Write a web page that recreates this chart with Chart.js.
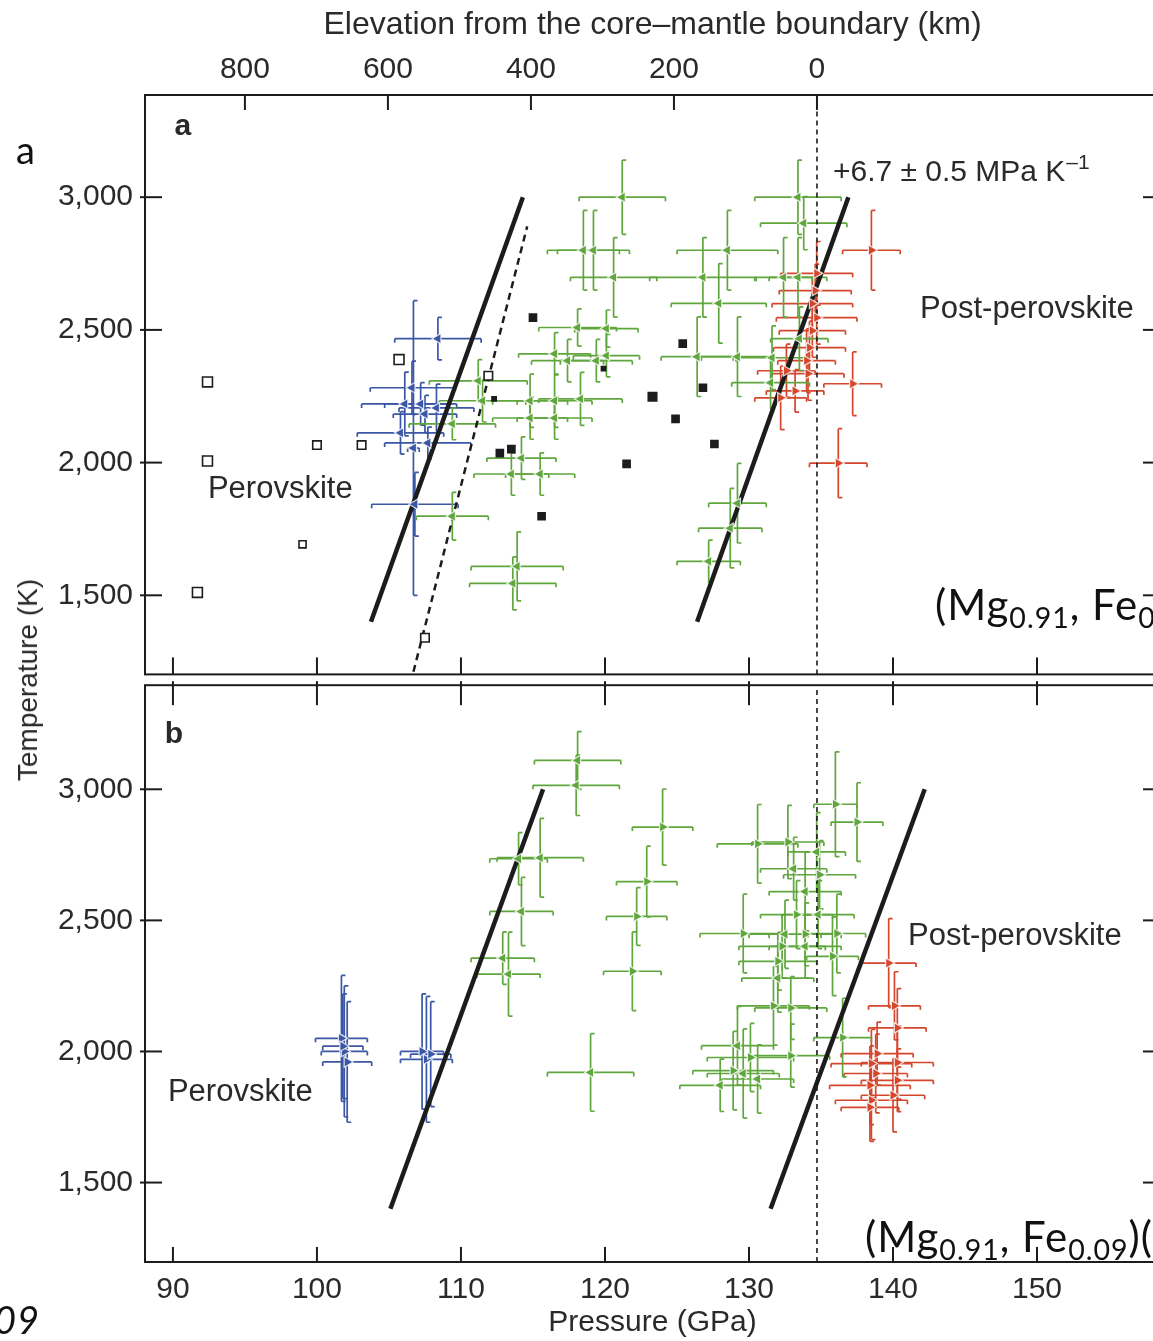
<!DOCTYPE html>
<html lang="en">
<head>
<meta charset="UTF-8">
<title>Perovskite / post-perovskite transition</title>
<script src="https://cdn.jsdelivr.net/npm/chart.js"></script>
<style>
  body {
    margin: 0;
    background: #fff;
    width: 1153px;
    height: 1341px;
    overflow: hidden;
    position: relative;
    font-family: "Liberation Sans", Arial, sans-serif;
    color: #2a2a2a;
  }
  canvas { position: absolute; left: 0; }
  #chartA { top: 0; }
  #chartB { top: 678px; }
  #ylab {
    position: absolute;
    left: 28px;
    top: 680px;
    transform: translate(-50%, -50%) rotate(-90deg);
    font-size: 28px;
    white-space: nowrap;
  }
  .slide {
    position: absolute;
    white-space: nowrap;
    font-family: Lato, "Noto Sans", sans-serif;
    font-size: 42px;
    letter-spacing: 1px;
    color: #111;
    line-height: 1;
  }
  .slide sub { font-size: 0.68em; vertical-align: -0.28em; line-height: 0; }
</style>
</head>
<body>
  <canvas id="chartA" width="1170" height="683"></canvas>
  <canvas id="chartB" width="1170" height="663"></canvas>
  <div id="ylab">Temperature (K)</div>
  <div class="slide" style="left:16px; top:130px; font-size:38px;">a</div>
  <div class="slide" style="left:-6px; top:1300px; font-size:38px; font-style:italic;">09</div>
  <div class="slide" style="left:935px; top:583px;">(Mg<sub>0.91</sub>, Fe<sub>0.09</sub>)(</div>
  <div class="slide" style="left:865px; top:1215px;">(Mg<sub>0.91</sub>, Fe<sub>0.09</sub>)(</div>

<script>
// ---- data: [pressure GPa, temperature K, ±pressure, ±temperature] ----
const pressureTicks = [90, 100, 110, 120, 130, 140, 150];
const elevationTicks = [800, 600, 400, 200, 0];
const tempTicks = [1500, 2000, 2500, 3000];

// panel a
const aPerovskite = [
  [108.4, 2467, 3.0, 80], [106.6, 2282, 2.9, 100], [106.1, 2221, 3.0, 120],
  [107.2, 2221, 2.5, 80], [108.3, 2206, 2.6, 90], [107.5, 2183, 2.2, 70],
  [105.8, 2112, 3.0, 80], [107.7, 2074, 3.0, 60], [106.8, 1843, 3.0, 120],
  [106.7, 2055, 0.4, 555]
];
const aMixed = [
  [121.2, 3000, 3.0, 140], [118.5, 2800, 2.5, 150], [119.2, 2800, 2.5, 150],
  [120.6, 2698, 3.0, 150], [126.8, 2698, 3.7, 150], [128.5, 2800, 3.5, 150],
  [127.9, 2600, 3.3, 150], [118.1, 2509, 2.7, 70], [120.1, 2505, 2.2, 70],
  [120.1, 2403, 2.3, 80], [126.4, 2399, 2.5, 150], [129.2, 2399, 2.5, 150],
  [118.3, 2240, 2.9, 100], [116.5, 2410, 2.5, 80], [117.4, 2384, 2.5, 80],
  [114.8, 2233, 2.6, 100], [116.5, 2233, 2.6, 100], [114.8, 2168, 2.6, 80],
  [116.5, 2168, 2.6, 80], [114.2, 2017, 2.4, 80], [115.5, 1957, 2.4, 80],
  [113.5, 1957, 2.6, 80], [111.2, 2308, 3.4, 80], [111.5, 2233, 3.0, 80],
  [109.4, 2146, 3.0, 60], [109.4, 1798, 2.5, 90], [113.9, 1609, 3.2, 130],
  [113.6, 1545, 3.0, 100], [133.4, 3000, 3.0, 140], [133.8, 2902, 3.0, 100],
  [132.4, 2698, 2.0, 150], [133.4, 2698, 2.0, 150], [131.6, 2395, 2.5, 120],
  [131.5, 2301, 2.7, 100], [133.5, 2467, 2.0, 120], [129.2, 1847, 2.0, 150],
  [128.7, 1753, 2.2, 150], [127.2, 1628, 2.2, 80], [119.4, 2384, 2.5, 80]
];
const aPostPerovskite = [
  [138.5, 2800, 2.0, 150], [134.7, 2713, 2.5, 120], [134.6, 2648, 2.5, 100],
  [134.4, 2599, 2.8, 100], [134.7, 2546, 2.8, 100], [134.4, 2497, 2.3, 100],
  [134.2, 2433, 2.5, 100], [134.0, 2384, 2.0, 120], [132.6, 2346, 2.0, 100],
  [134.1, 2335, 2.5, 100], [132.2, 2244, 1.8, 120], [137.2, 2297, 2.0, 120],
  [136.2, 1998, 2.0, 130], [133.2, 2270, 2.0, 80]
];
const aOpenSquares = [
  [92.4, 2304], [92.4, 2006], [100.0, 2066], [103.1, 2066],
  [105.7, 2388], [99.0, 1692], [91.7, 1511]
];
const aFilledSquares = [
  [115.0, 2546], [125.4, 2448], [123.3, 2248], [126.8, 2282], [124.9, 2165],
  [127.6, 2070], [121.5, 1995], [112.7, 2036], [113.5, 2051], [115.6, 1798],
  [119.9, 2354], [112.3, 2240]
];
const aCrossedSquares = [[111.9, 2327], [107.5, 1340]];
const aBoundary = [[103.75, 1400], [114.3, 3000]];
const aBoundaryDashed = [[106.7, 1212], [114.6, 2890]];
const aBoundaryRight = [[126.4, 1400], [136.9, 3000]];

// panel b
const bPerovskite = [
  [101.7, 2050, 1.8, 240], [101.9, 2000, 1.6, 250], [102.1, 1960, 1.7, 230],
  [101.8, 2020, 1.4, 200], [107.3, 2000, 1.5, 220], [107.6, 1970, 1.8, 240],
  [107.9, 1990, 1.4, 200]
];
const bMixedLeft = [
  [118.1, 3110, 3.0, 110], [118.0, 3015, 3.0, 115], [115.5, 2739, 3.0, 150],
  [114.0, 2735, 2.0, 100], [114.2, 2534, 2.2, 130], [112.9, 2356, 2.2, 100],
  [113.3, 2295, 2.2, 160], [119.0, 1920, 3.0, 148], [134.7, 2761, 2.0, 150],
  [133.1, 2697, 2.3, 120], [133.9, 2610, 2.5, 150], [134.8, 2522, 2.5, 130],
  [132.5, 2447, 2.5, 130], [133.9, 2401, 2.5, 120], [132.0, 2280, 2.5, 130],
  [129.2, 2022, 2.5, 150], [129.6, 1916, 2.5, 170], [128.0, 1871, 2.8, 100],
  [130.6, 1895, 2.5, 130]
];
const bMixedRight = [
  [124.0, 2856, 2.1, 145], [122.9, 2648, 2.1, 135], [122.2, 2515, 2.1, 110],
  [121.9, 2306, 2.0, 150], [136.0, 2943, 1.5, 200], [137.5, 2875, 1.8, 150],
  [130.6, 2792, 2.8, 150], [132.7, 2799, 2.5, 140], [134.9, 2674, 2.5, 130],
  [133.3, 2522, 2.5, 130], [129.6, 2450, 3.0, 150], [133.9, 2447, 2.5, 120],
  [136.1, 2450, 2.0, 150], [132.3, 2401, 3.0, 120], [135.8, 2363, 1.8, 150],
  [132.0, 2344, 2.7, 110], [131.7, 2174, 2.5, 150], [132.9, 2166, 2.5, 120],
  [136.5, 2053, 2.0, 150], [130.1, 1977, 3.0, 130], [132.9, 1984, 2.7, 120],
  [128.9, 1927, 2.8, 150]
];
const bPostPerovskite = [
  [139.7, 2337, 1.9, 170], [140.1, 2174, 1.8, 130], [140.3, 2090, 2.0, 150],
  [138.9, 1992, 2.5, 120], [140.3, 1958, 2.5, 140], [138.5, 1954, 2.8, 130],
  [138.8, 1916, 2.2, 150], [140.3, 1890, 2.5, 120], [138.4, 1871, 2.8, 150],
  [140.0, 1833, 2.2, 140], [138.5, 1814, 2.5, 150], [138.4, 1787, 2.0, 130]
];
const bBoundary = [[105.1, 1400], [115.7, 3000]];
const bBoundaryRight = [[131.5, 1400], [142.2, 3000]];

// axis ranges
const pMin = 88.06, pMax = 158.54;
const pCMB = 134.72;        // 0 km elevation
const kmPerGPa = 20.14;

const BLUE = '#3a56a5', GREEN = '#5fa63c', RED = '#d4472d', INK = '#1c1c1c';
const FONT = '"Liberation Sans", Arial, sans-serif';

const pts = rows => rows.map(r => ({ x: r[0], y: r[1] }));

// error bars drawn under the markers
const errorBars = {
  id: 'errorBars',
  beforeDatasetsDraw(chart) {
    const { ctx, chartArea: a, scales: { x, y } } = chart;
    ctx.save();
    ctx.beginPath();
    ctx.rect(a.left, a.top, a.width, a.height);
    ctx.clip();
    ctx.lineWidth = 1.7;
    chart.data.datasets.forEach(ds => {
      if (!ds.errors) return;
      ctx.strokeStyle = ds.errColor;
      ds.errors.forEach(([p, t, dp, dt]) => {
        const cx = x.getPixelForValue(p), cy = y.getPixelForValue(t);
        const x0 = x.getPixelForValue(p - dp), x1 = x.getPixelForValue(p + dp);
        const y0 = y.getPixelForValue(t + dt), y1 = y.getPixelForValue(t - dt);
        ctx.beginPath();
        ctx.moveTo(x0, cy); ctx.lineTo(x1, cy);
        ctx.moveTo(cx, y0); ctx.lineTo(cx, y1);
        ctx.moveTo(x0, cy); ctx.lineTo(x0, cy + 4);
        ctx.moveTo(x1, cy); ctx.lineTo(x1, cy + 4);
        ctx.moveTo(cx, y0); ctx.lineTo(cx + 4, y0);
        ctx.moveTo(cx, y1); ctx.lineTo(cx + 4, y1);
        ctx.stroke();
      });
    });
    ctx.restore();
  }
};

// box + inward ticks
function makeFrame(top, bottom) {
  return {
    id: 'frame',
    afterDraw(chart) {
      const { ctx, chartArea: a, scales } = chart;
      const seg = (x0, y0, x1, y1) => { ctx.beginPath(); ctx.moveTo(x0, y0); ctx.lineTo(x1, y1); ctx.stroke(); };
      ctx.save();
      ctx.strokeStyle = INK;
      ctx.lineWidth = 2;
      ctx.strokeRect(a.left, a.top, a.width, a.height);
      tempTicks.forEach(v => {
        const py = scales.y.getPixelForValue(v);
        seg(a.left - 5, py, a.left + 17, py);
        seg(a.right - 17, py, a.right + 5, py);
      });
      top.values.forEach(v => {
        const px = scales[top.scale].getPixelForValue(v);
        seg(px, a.top - top.out, px, a.top + top.len);
      });
      bottom.values.forEach(v => {
        const px = scales[bottom.scale].getPixelForValue(v);
        seg(px, a.bottom - bottom.len, px, a.bottom + bottom.out);
      });
      ctx.restore();
    }
  };
}

// in-plot labels, placed in data coordinates
function makeNotes(items) {
  return {
    id: 'notes',
    afterDatasetsDraw(chart) {
      const { ctx, scales: { x, y } } = chart;
      ctx.save();
      ctx.fillStyle = '#2a2a2a';
      ctx.textBaseline = 'middle';
      ctx.textAlign = 'left';
      items.forEach(it => {
        ctx.font = it.font;
        const px = x.getPixelForValue(it.p), py = y.getPixelForValue(it.t);
        ctx.fillText(it.text, px, py);
        if (it.sup) {
          const w = ctx.measureText(it.text).width;
          ctx.font = it.supFont;
          ctx.fillText(it.sup, px + w + 1, py - 9);
        }
      });
      ctx.restore();
    }
  };
}

function errSet(rows, color, rotation) {
  return {
    data: pts(rows), errors: rows, errColor: color,
    pointStyle: 'triangle', rotation: rotation, pointRadius: 6,
    backgroundColor: color, borderColor: 'rgba(255,255,255,0.8)', borderWidth: 1.2
  };
}
function lineSet(rows, width, dash) {
  return {
    data: pts(rows), showLine: true, pointRadius: 0,
    borderColor: INK, borderWidth: width, borderDash: dash || [], borderCapStyle: 'butt'
  };
}
function squareSet(rows, fill, radius) {
  return {
    data: pts(rows), pointStyle: 'rect', pointRadius: radius,
    backgroundColor: fill, borderColor: INK, borderWidth: 1.6
  };
}

// keep the plot boxes exactly where the axes say, no label overhang padding
const noOverhang = s => { s.paddingTop = 0; s.paddingBottom = 0; s.paddingLeft = 0; s.paddingRight = 0; };

const tickFont = { family: FONT, size: 30 };
const yAxis = (min, max) => ({
  type: 'linear', min: min, max: max,
  afterBuildTicks: s => { s.ticks = tempTicks.map(v => ({ value: v })); },
  afterFit: s => { s.width = 145; noOverhang(s); },
  grid: { display: false, drawTicks: false },
  border: { display: false },
  ticks: { font: tickFont, color: '#2a2a2a', padding: 12, autoSkip: false,
           callback: v => v.toLocaleString('en-US') }
});

// ---- panel a ----
new Chart(document.getElementById('chartA'), {
  type: 'scatter',
  data: {
    datasets: [
      errSet(aPostPerovskite, RED, 90),
      errSet(aPerovskite, BLUE, -90),
      errSet(aMixed, GREEN, -90),
      squareSet(aOpenSquares, '#ffffff', [7, 7, 6, 6, 7, 5, 7]),
      squareSet(aFilledSquares, INK, [5, 5, 6, 5, 5, 5, 5, 5, 5, 5, 3, 3]),
      squareSet(aCrossedSquares, '#ffffff', 6),
      { data: pts(aCrossedSquares), pointStyle: 'cross', pointRadius: 4,
        borderColor: INK, borderWidth: 1.3 },
      lineSet(aBoundary, 4.5),
      lineSet(aBoundaryRight, 4.5),
      lineSet(aBoundaryDashed, 2.5, [7, 5]),
      lineSet([[pCMB, 1202], [pCMB, 3385]], 1.6, [5, 4])
    ]
  },
  options: {
    responsive: false,
    animation: false,
    layout: { padding: { left: 0, top: 0, right: 10, bottom: 4 } },
    plugins: { legend: { display: false }, tooltip: { enabled: false } },
    scales: {
      x: { type: 'linear', min: pMin, max: pMax, display: false },
      xTop: {
        type: 'linear', position: 'top', reverse: true,
        min: (pCMB - pMax) * kmPerGPa, max: (pCMB - pMin) * kmPerGPa,
        afterBuildTicks: s => { s.ticks = elevationTicks.map(v => ({ value: v })); },
        afterFit: s => { s.height = 95; noOverhang(s); },
        grid: { display: false, drawTicks: false },
        border: { display: false },
        ticks: { font: tickFont, color: '#2a2a2a', padding: 7, autoSkip: false, maxRotation: 0 },
        title: { display: true, text: 'Elevation from the core\u2013mantle boundary (km)',
                 font: { family: FONT, size: 32 }, color: '#2a2a2a', padding: { top: 6, bottom: 0 } }
      },
      y: yAxis(1202, 3385)
    }
  },
  plugins: [
    errorBars,
    makeFrame({ scale: 'xTop', values: elevationTicks, len: 15, out: 0 },
              { scale: 'x', values: pressureTicks, len: 17, out: 0 }),
    makeNotes([
      { text: 'a', p: 90.1, t: 3265, font: 'bold 30px ' + FONT },
      { text: 'Perovskite', p: 92.43, t: 1900, font: '31px ' + FONT },
      { text: 'Post-perovskite', p: 141.88, t: 2577, font: '31px ' + FONT },
      { text: '+6.7 \u00b1 0.5 MPa K', p: 135.83, t: 3094, font: '30px ' + FONT,
        sup: '\u20131', supFont: '21px ' + FONT }
    ])
  ]
});

// ---- panel b ----
new Chart(document.getElementById('chartB'), {
  type: 'scatter',
  data: {
    datasets: [
      errSet(bPostPerovskite, RED, 90),
      errSet(bPerovskite, BLUE, 90),
      errSet(bMixedLeft, GREEN, -90),
      errSet(bMixedRight, GREEN, 90),
      lineSet(bBoundary, 4.5),
      lineSet(bBoundaryRight, 4.5),
      lineSet([[pCMB, 1197], [pCMB, 3397]], 1.6, [5, 4])
    ]
  },
  options: {
    responsive: false,
    animation: false,
    layout: { padding: { left: 0, top: 2, right: 10, bottom: 0 } },
    plugins: { legend: { display: false }, tooltip: { enabled: false } },
    scales: {
      x: {
        type: 'linear', position: 'bottom', min: pMin, max: pMax,
        afterBuildTicks: s => { s.ticks = pressureTicks.map(v => ({ value: v })); },
        afterFit: s => { s.height = 79; noOverhang(s); },
        grid: { display: false, drawTicks: false },
        border: { display: false },
        ticks: { font: tickFont, color: '#2a2a2a', padding: 10, autoSkip: false, maxRotation: 0 },
        title: { display: true, text: 'Pressure (GPa)', font: { family: FONT, size: 30 },
                 color: '#2a2a2a', padding: { top: 0, bottom: 0 } }
      },
      y: yAxis(1197, 3397)
    }
  },
  plugins: [
    errorBars,
    makeFrame({ scale: 'x', values: pressureTicks, len: 20, out: 4 },
              { scale: 'x', values: pressureTicks, len: 15, out: 0 }),
    makeNotes([
      { text: 'b', p: 89.44, t: 3208, font: 'bold 30px ' + FONT },
      { text: 'Perovskite', p: 89.65, t: 1844, font: '31px ' + FONT },
      { text: 'Post-perovskite', p: 141.04, t: 2439, font: '31px ' + FONT }
    ])
  ]
});
</script>
</body>
</html>
